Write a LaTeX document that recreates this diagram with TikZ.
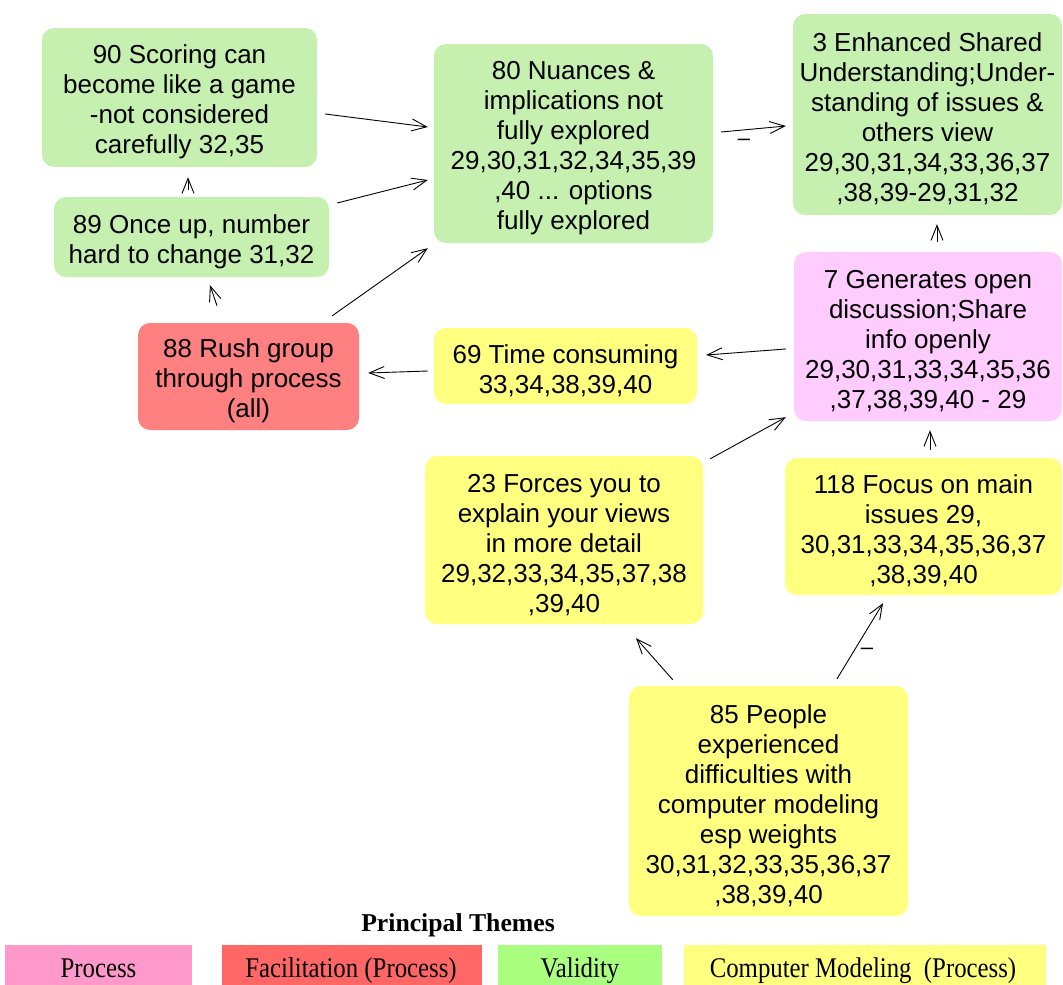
\documentclass[tikz,border=0pt]{standalone}
\usepackage{fontspec}
\setmainfont{Liberation Sans}
\newfontfamily\legendfont{Liberation Serif}
\usetikzlibrary{arrows.meta}
\definecolor{valgreen}{HTML}{C6F0B0}
\definecolor{procpink}{HTML}{FFCCFF}
\definecolor{facred}{HTML}{FF8080}
\definecolor{modyellow}{HTML}{FFFF80}
\definecolor{legpink}{HTML}{FF99CC}
\definecolor{legred}{HTML}{FF6666}
\definecolor{leggreen}{HTML}{AAFF80}
\definecolor{legyellow}{HTML}{FFFF80}
% taller first line so the text block sits a little lower in its box
\newcommand{\topstrut}{\rule{0pt}{28pt}}
\tikzset{
  nbox/.style={rectangle, rounded corners=12pt, draw=none, inner sep=0pt, align=center,
    font=\fontsize{26}{30}\selectfont},
  link/.style={draw=black, line width=0.9pt, -{Straight Barb[length=15pt,width=12pt,line width=0.9pt]}},
  sign/.style={inner sep=0pt, font=\fontsize{22}{26}\selectfont},
  legbox/.style={rectangle, draw=none, inner sep=0pt, minimum height=40pt},
  legtext/.style={anchor=base, inner sep=0pt, xscale=0.87, transform shape,
    font=\legendfont\fontsize{28.5}{32}\selectfont},
}
\begin{document}
\begin{tikzpicture}[x=1pt, y=-1pt]
\useasboundingbox (0,0) rectangle (1063,985);

% theme nodes
\node[nbox, fill=valgreen, minimum width=275pt, minimum height=139pt] (n90) at (179.5,97.5)
  {\topstrut 90 Scoring can\\become like a game\\-not considered\\carefully 32,35};
\node[nbox, fill=valgreen, minimum width=275pt, minimum height=80pt] (n89) at (191.5,237)
  {\topstrut 89 Once up, number\\hard to change 31,32};
\node[nbox, fill=facred, minimum width=221pt, minimum height=107pt] (n88) at (248.5,376.5)
  {\topstrut 88 Rush group\\through process\\(all)};
\node[nbox, fill=valgreen, minimum width=279pt, minimum height=199pt] (n80) at (573.5,143.5)
  {\topstrut 80 Nuances \&\\implications not\\fully explored\\29,30,31,32,34,35,39\\,40 ... options\\fully explored};
\node[nbox, fill=valgreen, minimum width=269pt, minimum height=201pt] (n3) at (927.5,114.5)
  {\topstrut 3 Enhanced Shared\\Understanding;Under-\\standing of issues \&\\others view\\29,30,31,34,33,36,37\\,38,39-29,31,32};
\node[nbox, fill=procpink, minimum width=268pt, minimum height=169pt] (n7) at (928,336.5)
  {\topstrut 7 Generates open\\discussion;Share\\info openly\\29,30,31,33,34,35,36\\,37,38,39,40 - 29};
\node[nbox, fill=modyellow, minimum width=263pt, minimum height=76pt] (n69) at (565.5,366)
  {\topstrut 69 Time consuming\\33,34,38,39,40};
\node[nbox, fill=modyellow, minimum width=278pt, minimum height=168pt] (n23) at (564,540)
  {\topstrut 23 Forces you to\\explain your views\\in more detail\\29,32,33,34,35,37,38\\,39,40};
\node[nbox, fill=modyellow, minimum width=277pt, minimum height=137pt] (n118) at (923.5,526.5)
  {\topstrut 118 Focus on main\\issues 29,\\30,31,33,34,35,36,37\\,38,39,40};
\node[nbox, fill=modyellow, minimum width=279pt, minimum height=230pt] (n85) at (768.5,801)
  {\topstrut 85 People\\experienced\\difficulties with\\computer modeling\\esp weights\\30,31,32,33,35,36,37\\,38,39,40};

% links
\draw[link] ([shift={(8,16.5)}]n90.east) -- ([shift={(-6,-16.5)}]n80.west);
\draw[link] ([shift={(8,-34)}]n89.east) -- ([shift={(-6,36.5)}]n80.west);
\draw[link] ([shift={(-27,-7)}]n88.north east) -- ([shift={(-6,5)}]n80.south west);
\draw[link] ([shift={(-3.5,-7)}]n89.north) -- ([shift={(8.5,10)}]n90.south);
\draw[link] ([shift={(-31.5,-17)}]n88.north) -- ([shift={(18.5,8)}]n89.south);
\draw[link] ([shift={(-6,5)}]n69.west) -- ([shift={(9,-3.5)}]n88.east);
\draw[link] ([shift={(-8,12.5)}]n7.west) -- ([shift={(9,-11)}]n69.east);
\draw[link] ([shift={(8,-11.5)}]n80.east) -- ([shift={(-7,11.5)}]n3.west);
\draw[link] ([shift={(9,-10)}]n7.north) -- ([shift={(9.5,9)}]n3.south);
\draw[link] ([shift={(7,3)}]n23.north east) -- ([shift={(-8,-4)}]n7.south west);
\draw[link] ([shift={(6.5,-8)}]n118.north) -- ([shift={(2,9)}]n7.south);
\draw[link] ([shift={(44,-6)}]n85.north west) -- ([shift={(72,14)}]n23.south);
\draw[link] ([shift={(68.5,-7)}]n85.north) -- ([shift={(-40.5,8)}]n118.south);

% signs on links
\node[sign] (s1) at (744,142) {–};
\node[sign] (s2) at (867,651) {–};

% legend
\node[font=\legendfont\bfseries\fontsize{25.7}{30}\selectfont] (ltitle) at (458,925) {Principal Themes};
\node[legbox, fill=legpink, minimum width=187pt] (lproc) at (98.5,965) {};
\node[legbox, fill=legred, minimum width=260pt] (lfac) at (352,965) {};
\node[legbox, fill=leggreen, minimum width=164pt] (lval) at (580,965) {};
\node[legbox, fill=legyellow, minimum width=362pt] (lmod) at (865,965) {};
\node[legtext] (tproc) at (98.5,977) {Process};
\node[legtext] (tfac) at (351,977) {Facilitation (Process)};
\node[legtext] (tval) at (580,977) {Validity};
\node[legtext] (tmod) at (863,977) {Computer Modeling~ (Process)};
\end{tikzpicture}
\end{document}
